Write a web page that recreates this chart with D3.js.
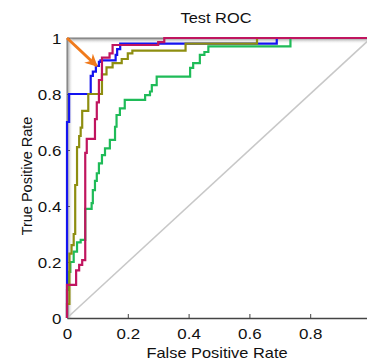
<!DOCTYPE html>
<html><head><meta charset="utf-8">
<script src="https://cdn.jsdelivr.net/npm/d3@7"></script>
<style>body{margin:0;background:#fff}svg{display:block}text{font-family:"Liberation Sans",Arial,sans-serif;fill:#111}</style>
</head><body><svg id="c" width="367" height="360"></svg>
<script>
const title = "Test ROC";
const xLabel = "False Positive Rate";
const yLabel = "True Positive Rate";
const xTicks = [0, 0.2, 0.4, 0.6, 0.8];
const yTicks = [0, 0.2, 0.4, 0.6, 0.8, 1];
const xTickLabels = ["0", "0.2", "0.4", "0.6", "0.8"];
const yTickLabels = ["0", "0.2", "0.4", "0.6", "0.8", "1"];
const greenCurve = [[0,0],[0,0.1],[0.005,0.1],[0.005,0.165],[0.011,0.165],[0.011,0.2],[0.022,0.2],[0.022,0.237],[0.033,0.237],[0.033,0.27],[0.045,0.27],[0.045,0.279],[0.06,0.279],[0.06,0.39],[0.081,0.39],[0.081,0.41],[0.085,0.41],[0.085,0.457],[0.092,0.457],[0.092,0.49],[0.098,0.49],[0.098,0.517],[0.105,0.517],[0.105,0.552],[0.115,0.552],[0.115,0.582],[0.125,0.582],[0.125,0.606],[0.141,0.606],[0.141,0.636],[0.158,0.636],[0.158,0.683],[0.163,0.683],[0.163,0.725],[0.174,0.725],[0.174,0.749],[0.19,0.749],[0.19,0.779],[0.257,0.779],[0.257,0.796],[0.273,0.796],[0.273,0.809],[0.279,0.809],[0.279,0.832],[0.295,0.832],[0.295,0.862],[0.405,0.862],[0.405,0.893],[0.415,0.893],[0.415,0.91],[0.437,0.91],[0.437,0.94],[0.452,0.94],[0.452,0.95],[0.465,0.95],[0.465,0.97],[0.735,0.97],[0.735,1],[1,1]];
const blueCurve = [[0,0],[0,0.7],[0.007,0.7],[0.007,0.8],[0.078,0.8],[0.078,0.865],[0.085,0.865],[0.085,0.88],[0.095,0.88],[0.095,0.9],[0.105,0.9],[0.105,0.915],[0.11,0.915],[0.11,0.92],[0.16,0.92],[0.16,0.94],[0.165,0.94],[0.165,0.96],[0.175,0.96],[0.175,0.98],[0.69,0.98],[0.69,1],[1,1]];
const oliveCurve = [[0,0],[0,0.05],[0.008,0.05],[0.008,0.23],[0.015,0.23],[0.015,0.26],[0.022,0.26],[0.022,0.3],[0.027,0.3],[0.027,0.475],[0.033,0.475],[0.033,0.61],[0.04,0.61],[0.04,0.65],[0.045,0.65],[0.045,0.68],[0.05,0.68],[0.05,0.74],[0.07,0.74],[0.07,0.8],[0.115,0.8],[0.115,0.87],[0.13,0.87],[0.13,0.895],[0.15,0.895],[0.15,0.91],[0.18,0.91],[0.18,0.925],[0.2,0.925],[0.2,0.945],[0.215,0.945],[0.215,0.955],[0.39,0.955],[0.39,0.98],[0.625,0.98],[0.625,1],[1,1]];
const maroonCurve = [[0,0],[0,0.118],[0.03,0.118],[0.03,0.17],[0.04,0.17],[0.04,0.19],[0.05,0.19],[0.05,0.207],[0.06,0.207],[0.06,0.59],[0.065,0.59],[0.065,0.64],[0.092,0.64],[0.092,0.71],[0.098,0.71],[0.098,0.77],[0.105,0.77],[0.105,0.85],[0.115,0.85],[0.115,0.93],[0.14,0.93],[0.14,0.945],[0.15,0.945],[0.15,0.975],[0.3,0.975],[0.3,0.985],[0.32,0.985],[0.32,1],[1,1]];
const curves = [
  {name:"green", data: greenCurve, color:"#1fbb58"},
  {name:"blue", data: blueCurve, color:"#1414f0"},
  {name:"olive", data: oliveCurve, color:"#8e8e10"},
  {name:"maroon", data: maroonCurve, color:"#c0155f"}
];
const diagonal = [[0,0],[1,1]];
const arrowFrom = [0, 1];
const arrowTo = [0.098, 0.9];

const svg = d3.select("#c");
const x = d3.scaleLinear().domain([0,1]).range([67,371]);
const y = d3.scaleLinear().domain([0,1]).range([318,38]);

const defs = svg.append("defs");
const gt = defs.append("linearGradient").attr("id","gt").attr("x1",0).attr("y1",0).attr("x2",0).attr("y2",1);
gt.append("stop").attr("offset","0%").attr("stop-color","#8a8a8a");
gt.append("stop").attr("offset","100%").attr("stop-color","#ffffff").attr("stop-opacity",0);
const gl = defs.append("linearGradient").attr("id","gl").attr("x1",0).attr("y1",0).attr("x2",1).attr("y2",0);
gl.append("stop").attr("offset","0%").attr("stop-color","#8a8a8a");
gl.append("stop").attr("offset","100%").attr("stop-color","#ffffff").attr("stop-opacity",0);
defs.append("marker").attr("id","ah").attr("viewBox","0 0 10 10").attr("refX",9).attr("refY",5)
  .attr("markerWidth",4.2).attr("markerHeight",4.2).attr("orient","auto")
  .append("path").attr("d","M0,0 L10,5 L0,10 L3,5 Z").attr("fill","#f07a1c");

// frame shading
svg.append("rect").attr("x",x(0)).attr("y",y(1)).attr("width",x(1)-x(0)).attr("height",6).attr("fill","url(#gt)");
svg.append("rect").attr("x",x(0)).attr("y",y(1)).attr("width",6).attr("height",y(0)-y(1)).attr("fill","url(#gl)");
svg.append("line").attr("x1",x(0)).attr("x2",x(1)).attr("y1",y(1)).attr("y2",y(1)).attr("stroke","#777").attr("stroke-width",1);
svg.append("line").attr("x1",x(0)).attr("x2",x(0)).attr("y1",y(1)).attr("y2",y(0)).attr("stroke","#777").attr("stroke-width",1);

// axes
const xa = svg.append("g").attr("transform",`translate(0,${y(0)})`)
  .call(d3.axisBottom(x).tickValues(xTicks).tickSize(-4).tickFormat((d,i)=>xTickLabels[i]).tickSizeOuter(0));
xa.select(".domain").attr("stroke","#444").attr("stroke-width",1.4);
xa.selectAll(".tick line").attr("stroke","#444");
xa.selectAll("text").remove();
xa.selectAll(".tick").append("text").attr("y",21).attr("text-anchor","middle")
  .attr("transform","scale(1.13,1)").style("font-size","15px").text((d,i)=>xTickLabels[i]);

const ya = svg.append("g").attr("transform",`translate(${x(0)},0)`)
  .call(d3.axisLeft(y).tickValues(yTicks).tickSize(-3).tickSizeOuter(0));
ya.select(".domain").remove();
ya.selectAll(".tick line").attr("stroke","#555");
ya.selectAll("text").remove();
ya.selectAll(".tick").append("text").attr("x",-5).attr("dy","0.36em").attr("text-anchor","end")
  .attr("transform","scale(1.13,1)").style("font-size","15px").text((d,i)=>yTickLabels[i]);

// diagonal
const line = d3.line().x(d=>x(d[0])).y(d=>y(d[1]));
svg.append("path").attr("d",line(diagonal)).attr("stroke","#c8c8c8").attr("stroke-width",1.6).attr("fill","none");

// curves
svg.append("g").selectAll("path").data(curves).join("path")
  .attr("d",d=>line(d.data)).attr("stroke",d=>d.color).attr("stroke-width",2.2)
  .attr("fill","none").attr("stroke-linejoin","miter");

// arrow
svg.append("line").attr("x1",x(arrowFrom[0])).attr("y1",y(arrowFrom[1]))
  .attr("x2",x(arrowTo[0])).attr("y2",y(arrowTo[1]))
  .attr("stroke","#f07a1c").attr("stroke-width",3).attr("marker-end","url(#ah)");

// labels
svg.append("text").attr("transform","translate(216,23) scale(1.13,1)").attr("text-anchor","middle").style("font-size","14.5px").text(title);
svg.append("text").attr("transform","translate(217,358) scale(1.13,1)").attr("text-anchor","middle").style("font-size","14.5px").text(xLabel);
svg.append("text").attr("transform","translate(32,176) rotate(-90)").attr("text-anchor","middle").style("font-size","14.5px").text(yLabel);
</script></body></html>
